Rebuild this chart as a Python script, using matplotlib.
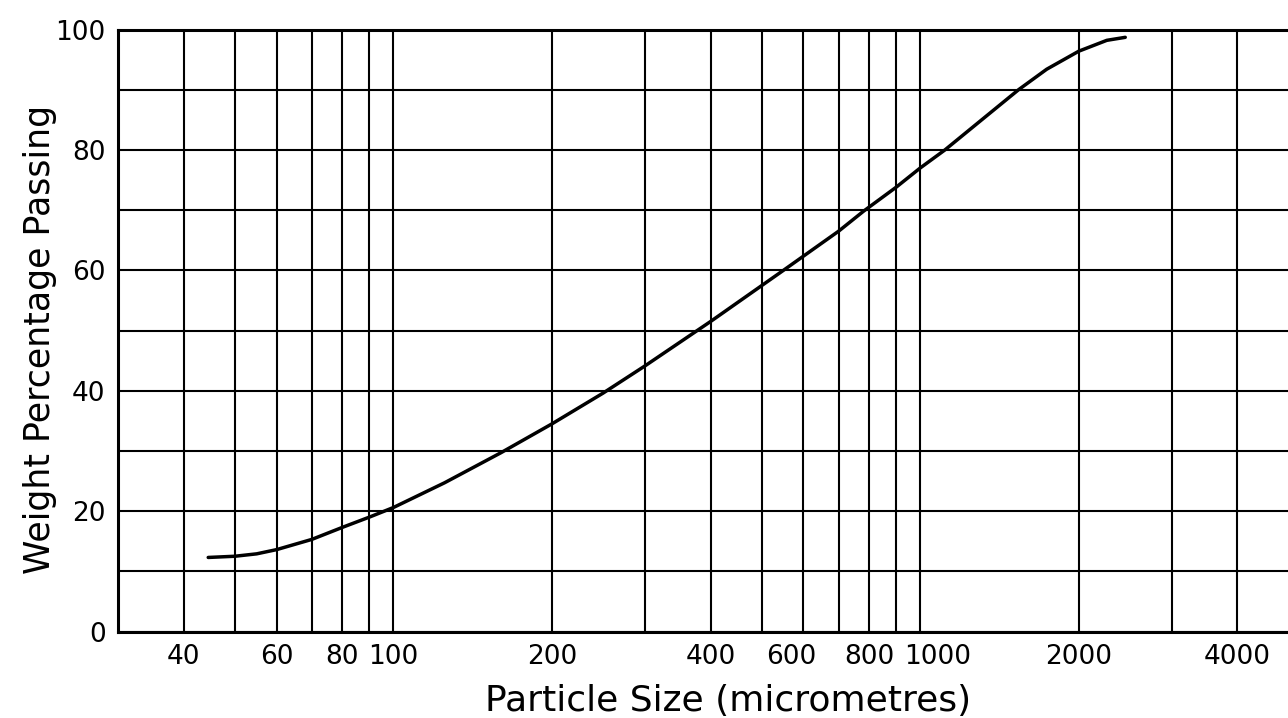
import numpy as np
import matplotlib
matplotlib.use("Agg")
import matplotlib.pyplot as plt
from matplotlib.transforms import ScaledTranslation

############################################
# data
############################################

size_um = [44.5, 50, 55, 60, 70, 80, 90, 100, 125, 160, 200, 250, 300, 400,
           550, 700, 780, 900, 1000, 1114, 1300, 1537, 1738, 2000, 2260, 2450]
passing = [12.3, 12.5, 12.9, 13.6, 15.3, 17.3, 19.0, 20.6, 24.7, 29.7, 34.5,
           39.6, 44.1, 51.5, 60.0, 66.5, 69.8, 73.8, 77.0, 80.0, 84.8, 90.0,
           93.4, 96.4, 98.2, 98.7]

x_labelled = [40, 60, 80, 100, 200, 400, 600, 800, 1000, 2000, 4000]
x_grid = [50, 70, 90, 300, 500, 700, 900, 3000]
y_labelled = [0, 20, 40, 60, 80, 100]
y_grid = [10, 30, 50, 70, 90]

# hand lettering sits a little off some lines
label_nudge_px = {600: -12, 1000: 17}

############################################
# plot
############################################

W, H = 1288, 718
fig = plt.figure(figsize=(W / 100, H / 100), dpi=100)
ax = fig.add_axes([118 / W, (H - 631.5) / H, 1 - 118 / W, (631.5 - 29.5) / H])

ax.set_xscale("log")
ax.set_xlim(30, 4990)
ax.set_ylim(0, 100)

ax.set_xticks(x_labelled, labels=[str(v) for v in x_labelled])
ax.set_xticks(x_grid, minor=True)
ax.xaxis.set_minor_formatter(matplotlib.ticker.NullFormatter())
ax.set_yticks(y_labelled, labels=[str(v) for v in y_labelled])
ax.set_yticks(y_grid, minor=True)

ax.grid(True, which="both", color="black", linewidth=1.5)
ax.set_axisbelow(True)
ax.tick_params(which="both", length=0, labelsize=19, colors="black")
ax.tick_params(axis="x", pad=9)
ax.tick_params(axis="y", pad=9)

for side in ["left", "bottom", "top"]:
    ax.spines[side].set_linewidth(2.2)
ax.spines["right"].set_visible(False)

ax.plot(size_um, passing, color="black", linewidth=2.5,
        solid_capstyle="round", solid_joinstyle="round", clip_on=False)

for tick in ax.xaxis.get_major_ticks():
    v = tick.get_loc()
    for key, dx in label_nudge_px.items():
        if abs(v - key) < 1e-6:
            lab = tick.label1
            lab.set_transform(lab.get_transform() +
                              ScaledTranslation(dx / 100, 0, fig.dpi_scale_trans))

fig.text(728 / W, (H - 701) / H, "Particle Size (micrometres)",
         fontsize=26, ha="center", va="center")
fig.text(40 / W, (H - 339) / H, "Weight Percentage Passing",
         fontsize=25, ha="center", va="center", rotation=90)

fig.savefig("out.png", dpi=100, facecolor="white")
